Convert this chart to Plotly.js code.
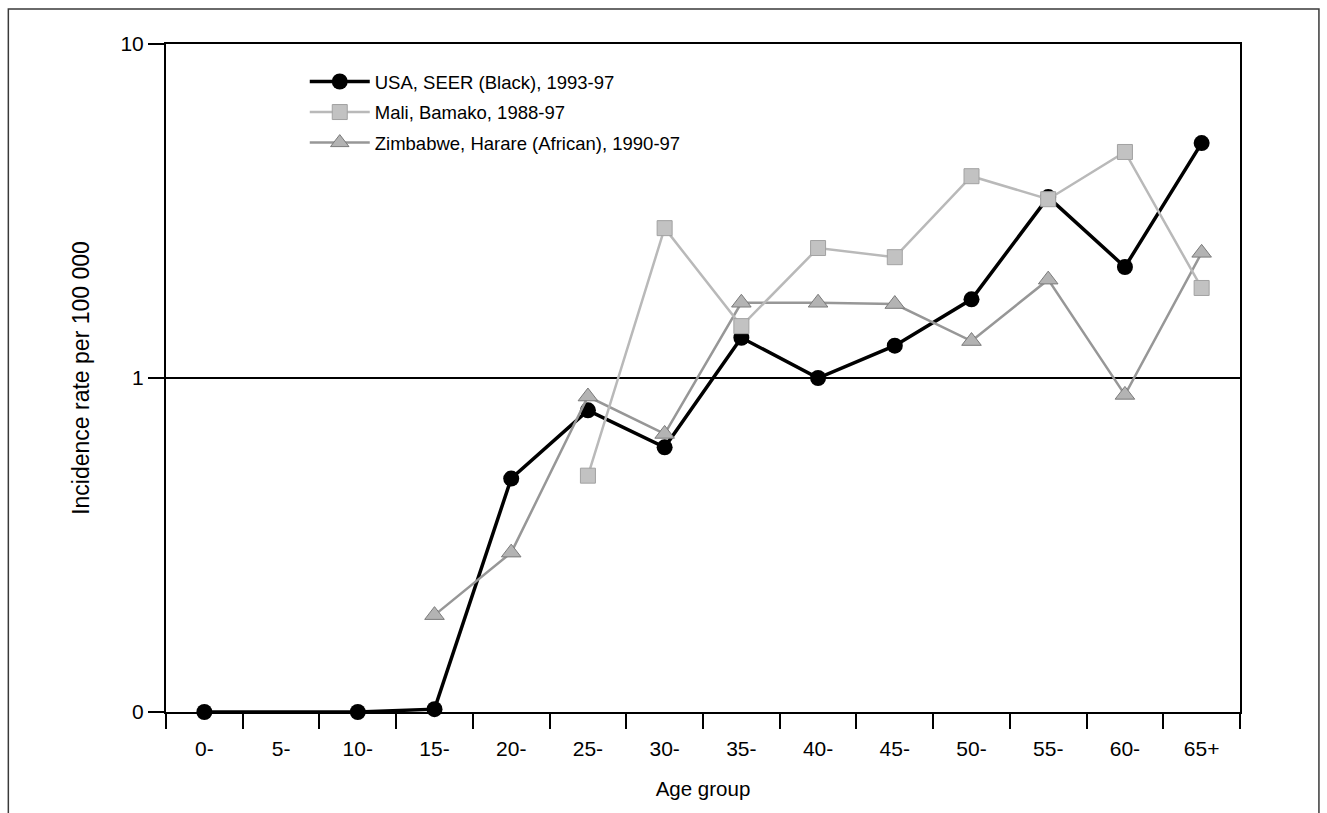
<!DOCTYPE html>
<html>
<head>
<meta charset="utf-8">
<script src="https://cdn.plot.ly/plotly-3.0.1.min.js"></script>
<style>
  html, body { margin: 0; padding: 0; background: #fff; }
  #chart { width: 1327px; height: 813px; }
</style>
</head>
<body>
<div id="chart"></div>
<script>
// Age groups (categories)
var ageGroups = ["0-", "5-", "10-", "15-", "20-", "25-", "30-", "35-", "40-", "45-", "50-", "55-", "60-", "65+"];

// Incidence rate per 100 000 (log axis; the bottom "0" tick sits at 0.1)
var usaSeerBlack = [0.1, null, 0.1, 0.102, 0.50, 0.80, 0.62, 1.32, 1.0, 1.25, 1.72, 3.48, 2.15, 5.05];
var maliBamako   = [null, null, null, null, null, 0.51, 2.81, 1.43, 2.45, 2.30, 4.02, 3.43, 4.75, 1.86];
var zimbabweHarare = [null, null, null, 0.195, 0.30, 0.88, 0.68, 1.68, 1.68, 1.665, 1.29, 1.97, 0.89, 2.37];

// Series names
var seriesNames = ["USA, SEER (Black), 1993-97", "Mali, Bamako, 1988-97", "Zimbabwe, Harare (African), 1990-97"];

// Y tick values and labels
var yTickVals = [0.1, 1, 10];
var yTickText = ["0", "1", "10"];

var fontFamily = "Liberation Sans, Arial, Helvetica, sans-serif";

var traces = [
  {
    x: ageGroups, y: usaSeerBlack, name: seriesNames[0],
    type: "scatter", mode: "lines+markers", connectgaps: true, cliponaxis: false,
    line: { color: "#000000", width: 3.5 },
    marker: { symbol: "circle", size: 16, color: "#000000" },
    legendgroup: "g1", legendrank: 1
  },
  {
    x: ageGroups, y: zimbabweHarare, name: seriesNames[2],
    type: "scatter", mode: "lines+markers", cliponaxis: false,
    line: { color: "#979797", width: 2.5 },
    marker: { symbol: "triangle-up", size: 17, color: "#b3b3b3", line: { color: "#7a7a7a", width: 1 } },
    legendgroup: "g3", legendrank: 3
  },
  {
    x: ageGroups, y: maliBamako, name: seriesNames[1],
    type: "scatter", mode: "lines+markers", cliponaxis: false,
    line: { color: "#b9b9b9", width: 2.5 },
    marker: { symbol: "square", size: 15, color: "#c2c2c2", line: { color: "#a2a2a2", width: 1 } },
    legendgroup: "g2", legendrank: 2
  }
];

var layout = {
  width: 1327, height: 813,
  paper_bgcolor: "#ffffff", plot_bgcolor: "#ffffff",
  margin: { l: 166, r: 87, t: 44, b: 101 },
  font: { family: fontFamily, size: 20, color: "#000000" },
  showlegend: true,
  legend: {
    x: 0.1292, y: 0.9716, xanchor: "left", yanchor: "top",
    bgcolor: "rgba(0,0,0,0)", borderwidth: 0,
    font: { family: fontFamily, size: 18.5, color: "#000000" },
    itemwidth: 60,
    traceorder: "grouped",
    tracegroupgap: 3.5
  },
  xaxis: {
    type: "category",
    categoryorder: "array", categoryarray: ageGroups,
    range: [-0.5, 13.5],
    tickson: "boundaries",
    ticks: "outside", ticklen: 15, tickwidth: 2, tickcolor: "#000000",
    ticklabelstandoff: 17,
    showline: true, linewidth: 2, linecolor: "#000000", mirror: true,
    showgrid: false, zeroline: false,
    tickfont: { family: fontFamily, size: 21, color: "#000000" },
    title: { text: "Age group", font: { family: fontFamily, size: 20.5, color: "#000000" }, standoff: 22 }
  },
  yaxis: {
    type: "log",
    range: [-1, 1],
    tickvals: yTickVals, ticktext: yTickText,
    ticks: "outside", ticklen: 16, tickwidth: 2, tickcolor: "#000000",
    showline: true, linewidth: 2, linecolor: "#000000", mirror: true,
    showgrid: true, gridcolor: "#000000", gridwidth: 2,
    zeroline: false,
    tickfont: { family: fontFamily, size: 21, color: "#000000" },
    title: { text: "Incidence rate per 100 000", font: { family: fontFamily, size: 23, color: "#000000" }, standoff: 24 }
  },
  shapes: [
    {
      type: "rect", xref: "paper", yref: "paper",
      x0: -0.1468, x1: 1.0735, y0: -0.16, y1: 1.0524,
      line: { color: "#3a3a3a", width: 1.5 }, fillcolor: "rgba(0,0,0,0)", layer: "below"
    }
  ]
};

Plotly.newPlot("chart", traces, layout, { displayModeBar: false, staticPlot: true });
</script>
</body>
</html>
